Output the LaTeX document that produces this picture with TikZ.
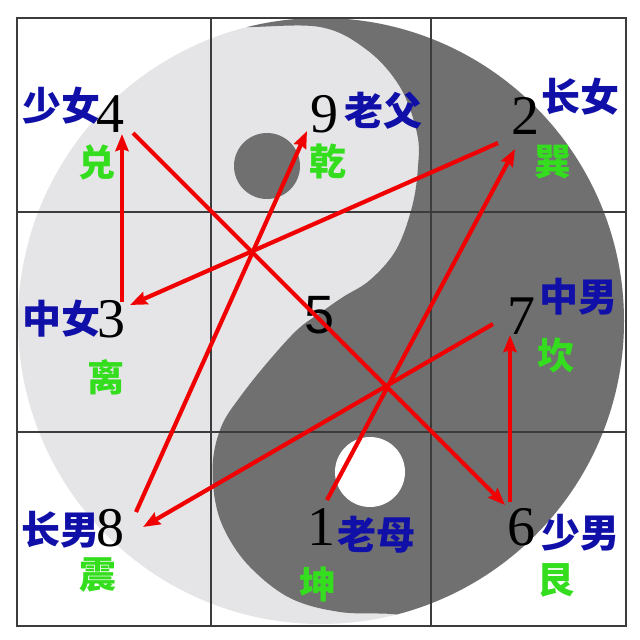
\documentclass[tikz,border=0pt]{standalone}
\usepackage{fontspec}
\setmainfont{Liberation Serif}
\newfontfamily\cjk{Noto Sans CJK SC}
\newfontfamily\digitsans{Liberation Sans}
\usetikzlibrary{arrows.meta,calc}
\definecolor{yinlight}{RGB}{229,229,231}
\definecolor{yindark}{RGB}{112,112,112}
\definecolor{rolepen}{RGB}{16,16,168}
\definecolor{guapen}{RGB}{52,222,30}
\definecolor{flightred}{RGB}{240,0,0}
\definecolor{gridpen}{RGB}{60,60,60}
\begin{document}
\begin{tikzpicture}[
		x=1pt, y=-1pt,
		digit/.style={inner sep=0, font=\fontsize{56}{56}\selectfont},
		role/.style={inner sep=0, text=rolepen, font=\cjk\bfseries\fontsize{39}{39}\selectfont},
		gua/.style={inner sep=0, text=guapen, font=\cjk\bfseries\fontsize{37}{37}\selectfont},
		gridline/.style={draw=gridpen, line width=1.3pt},
		flight/.style={draw=flightred, line width=4.2pt, -{Stealth[length=17pt,width=13pt,inset=2pt]}},
	]
	\fill[white] (0,0) rectangle (640,640);
	\useasboundingbox (0,0) rectangle (640,640);
	\fill[yinlight] (321,321) circle (303);
	\begin{scope}
		\clip (321,321) circle (303);
		\fill[yindark] plot[smooth, tension=0.6] coordinates {(225,22) (243,27) (320,27) (367,50) (400,87) (417,133) (418,167) (412,207) (396,250) (370,280) (343,297) (320,313) (297,330) (267,363) (240,397) (222,425) (213,460) (215,500) (226,533) (250,567) (290,598) (340,612) (400,615) (450,630)}
			-- (660,660) -- (660,-20) -- (225,-20) -- cycle;
	\end{scope}
	\fill[yindark] (267,166) circle (33);
	\fill[white] (370,472) circle (35);
	\draw[gridline] (17,18) rectangle (626,626);
	\draw[gridline] (211,18) -- (211,626);
	\draw[gridline] (431,18) -- (431,626);
	\draw[gridline] (17,212) -- (626,212);
	\draw[gridline] (17,432) -- (626,432);
	\node[digit] (n4) at (110,114) {4};
	\node[digit] (n9) at (324,114) {9};
	\node[digit] (n2) at (525,116) {2};
	\node[digit] (n3) at (111,319) {3};
	\node[digit, font=\digitsans\fontsize{54}{54}\selectfont] (n5) at (320,315) {5};
	\node[digit] (n7) at (521,316) {7};
	\node[digit] (n8) at (110,528) {8};
	\node[digit] (n1) at (321,527) {1};
	\node[digit] (n6) at (521,527) {6};
	\node[role] (r4) at (61,106) {少女};
	\node[role] (r9) at (383,111) {老父};
	\node[role] (r2) at (580,97) {长女};
	\node[role] (r3) at (62,319) {中女};
	\node[role] (r7) at (578,297) {中男};
	\node[role] (r8) at (60,530) {长男};
	\node[role] (r1) at (376,535) {老母};
	\node[role] (r6) at (580,533) {少男};
	\node[gua] (g4) at (97,162) {兑};
	\node[gua] (g9) at (328,161) {乾};
	\node[gua] (g2) at (553,162) {巽};
	\node[gua] (g3) at (106,377) {离};
	\node[gua] (g7) at (556,355) {坎};
	\node[gua] (g8) at (98,575) {震};
	\node[gua] (g1) at (318,584) {坤};
	\node[gua] (g6) at (556,580) {艮};
	\draw[flight] ($(n1)+(6,-27)$) -- ($(n2)+(-10,33)$);
	\draw[flight] ($(n2)+(-27,27)$) -- ($(n3)+(19,-14)$);
	\draw[flight] ($(n3)+(11,-17)$) -- ($(n4)+(12,20)$);
	\draw[flight] ($(n4)+(23,19)$) -- ($(n6)+(-16,-22)$);
	\draw[flight] ($(n6)+(-11,-25)$) -- ($(n7)+(-11,19)$);
	\draw[flight] ($(n7)+(-28,8)$) -- ($(n8)+(33,-1)$);
	\draw[flight] ($(n8)+(26,-16)$) -- ($(n9)+(-17,17)$);
\end{tikzpicture}
\end{document}
